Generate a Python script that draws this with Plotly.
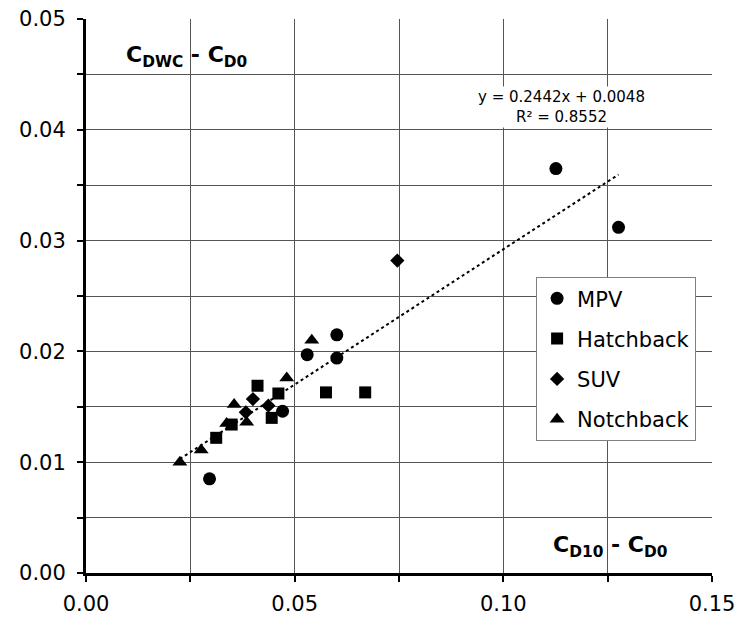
import plotly.graph_objects as go

# ---- data ----
mpv_x = [0.0296, 0.0471, 0.0530, 0.0601, 0.0601, 0.1126, 0.1276]
mpv_y = [0.0085, 0.0146, 0.0197, 0.0194, 0.0215, 0.0365, 0.0312]

hatch_x = [0.0312, 0.0349, 0.0411, 0.0445, 0.0461, 0.0575, 0.0669]
hatch_y = [0.0122, 0.0134, 0.0169, 0.0140, 0.0162, 0.0163, 0.0163]

suv_x = [0.0383, 0.0400, 0.0437, 0.0746]
suv_y = [0.0145, 0.0157, 0.0151, 0.0282]

notch_x = [0.0225, 0.0276, 0.0337, 0.0355, 0.0385, 0.0481, 0.0541]
notch_y = [0.0100, 0.0111, 0.0135, 0.0152, 0.0136, 0.0176, 0.0210]

slope = 0.2442
intercept = 0.0048
r2 = 0.8552

FONT = "DejaVu Sans, Verdana, sans-serif"

all_x = mpv_x + hatch_x + suv_x + notch_x
tx = [min(all_x), max(all_x)]
ty = [slope * v + intercept for v in tx]

fig = go.Figure()
series = [
    ("MPV", mpv_x, mpv_y, "circle", 13),
    ("Hatchback", hatch_x, hatch_y, "square", 12),
    ("SUV", suv_x, suv_y, "diamond", 11),
    ("Notchback", notch_x, notch_y, "triangle-up", 13),
]
for i, (name, xs, ys, sym, sz) in enumerate(series):
    fig.add_trace(go.Scatter(
        x=xs, y=ys, mode="markers", name=name, legendgroup=f"g{i}",
        marker=dict(symbol=sym, size=sz, color="black", line=dict(width=0)),
    ))

fig.add_trace(go.Scatter(
    x=tx, y=ty, mode="lines", showlegend=False,
    line=dict(color="black", width=2, dash="dot"),
))

grid_col = "#555555"
fig.update_xaxes(
    range=[0, 0.15], dtick=0.05, tick0=0, tickformat=".2f", automargin=False,
    showline=True, linecolor="black", linewidth=3,
    ticks="outside", ticklen=6, tickwidth=2, tickcolor="black",
    ticklabelstandoff=4,
    showgrid=True, gridcolor=grid_col, gridwidth=1, zeroline=False,
    minor=dict(dtick=0.025, tick0=0, ticks="outside", ticklen=6, tickwidth=2,
               tickcolor="black", showgrid=True, gridcolor=grid_col, gridwidth=1),
    tickfont=dict(family=FONT, size=21, color="black"),
)
fig.update_yaxes(
    range=[0, 0.05], dtick=0.01, tick0=0, tickformat=".2f", automargin=False,
    showline=True, linecolor="black", linewidth=3,
    ticks="outside", ticklen=6, tickwidth=2, tickcolor="black",
    ticklabelstandoff=7,
    showgrid=True, gridcolor=grid_col, gridwidth=1, zeroline=False,
    minor=dict(dtick=0.005, tick0=0, ticks="outside", ticklen=6, tickwidth=2,
               tickcolor="black", showgrid=True, gridcolor=grid_col, gridwidth=1),
    tickfont=dict(family=FONT, size=21, color="black"),
)

fig.add_annotation(
    x=0.0242, y=0.0466, xref="x", yref="y", showarrow=False,
    text="<b>C<sub>DWC</sub> - C<sub>D0</sub></b>",
    font=dict(family=FONT, size=22, color="black"),
)
fig.add_annotation(
    x=0.1256, y=0.0024, xref="x", yref="y", showarrow=False,
    text="<b>C<sub>D10</sub> - C<sub>D0</sub></b>",
    font=dict(family=FONT, size=22, color="black"),
)
fig.add_annotation(
    x=0.1140, y=0.0421, xref="x", yref="y", showarrow=False,
    text=f"y = {slope:.4f}x + {intercept:.4f}<br>R² = {r2:.4f}",
    font=dict(family=FONT, size=15, color="black"),
    bgcolor="white",
)

fig.update_layout(
    width=739, height=617,
    margin=dict(l=86, r=27, t=19, b=44, autoexpand=False),
    paper_bgcolor="white", plot_bgcolor="white",
    showlegend=True,
    legend=dict(
        x=0.719, y=0.534, xanchor="left", yanchor="top",
        bgcolor="white", bordercolor="#808080", borderwidth=1,
        font=dict(family=FONT, size=21, color="black"),
        tracegroupgap=10,
    ),
)

fig.write_html("out.html")
